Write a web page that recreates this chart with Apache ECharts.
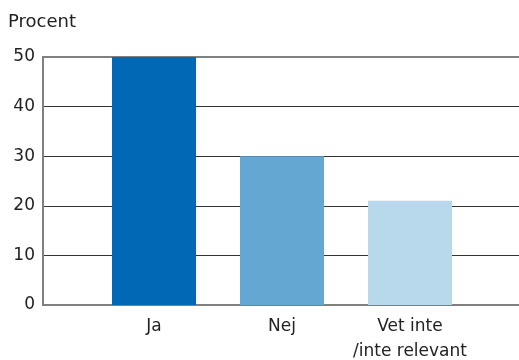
<!DOCTYPE html>
<html>
<head>
<meta charset="utf-8">
<script src="https://cdn.jsdelivr.net/npm/echarts@6/dist/echarts.min.js"></script>
<style>
  html, body { margin: 0; padding: 0; background: #fff; }
  #chart { width: 519px; height: 360px; }
</style>
</head>
<body>
<div id="chart"></div>
<script>
// data
const categories = ['Ja', 'Nej', 'Vet inte\n/inte relevant'];
const values = [50, 30, 21];
const barColors = ['#0068b4', '#64a7d3', '#b8d8eb'];
const yTicks = [0, 10, 20, 30, 40, 50];

const font = 'DejaVu Sans';
const frameColor = '#808080';
const chart = echarts.init(document.getElementById('chart'));

// value axis used only for the grey frame lines (bottom / top)
function frameAxis(pos) {
    return {
        gridIndex: 0,
        type: 'value',
        position: pos,
        min: 0,
        max: 1,
        axisLine: { show: true, lineStyle: { color: frameColor, width: 2 } },
        axisTick: { show: false },
        axisLabel: { show: false },
        splitLine: { show: false }
    };
}

const option = {
    animation: false,
    textStyle: { fontFamily: font },
    graphic: [{
        type: 'text',
        left: 8,
        top: 13,
        style: { text: 'Procent', fontSize: 18, fill: '#222', fontFamily: font }
    }],
    grid: [
        // frame: y axis, gridlines
        { left: 43, right: 0, top: 57, bottom: 55, outerBoundsMode: 'none' },
        // bars
        { left: 90, right: 45, top: 57, bottom: 55, outerBoundsMode: 'none' }
    ],
    xAxis: [frameAxis('bottom'), frameAxis('top'), {
        gridIndex: 1,
        type: 'category',
        data: categories,
        axisLine: { show: false },
        axisTick: { show: false },
        axisLabel: { interval: 0, fontSize: 17, color: '#222', margin: 9, lineHeight: 25, fontFamily: font }
    }],
    yAxis: [{
        gridIndex: 0,
        type: 'value',
        min: yTicks[0],
        max: yTicks[yTicks.length - 1],
        interval: 10,
        axisLine: { show: true, lineStyle: { color: frameColor, width: 2 } },
        axisTick: { show: false },
        axisLabel: { fontSize: 17, color: '#222', margin: 8, fontFamily: font },
        splitLine: {
            show: true,
            lineStyle: { color: ['rgba(0,0,0,0)', '#333', '#333', '#333', '#333', 'rgba(0,0,0,0)'], width: 1 }
        }
    }, {
        gridIndex: 1,
        type: 'value',
        min: 0,
        max: 50,
        show: false
    }],
    series: [{
        type: 'bar',
        xAxisIndex: 2,
        yAxisIndex: 1,
        barWidth: 84,
        data: values.map(function (v, i) {
            return { value: v, itemStyle: { color: barColors[i] } };
        })
    }]
};
chart.setOption(option);
</script>
</body>
</html>
